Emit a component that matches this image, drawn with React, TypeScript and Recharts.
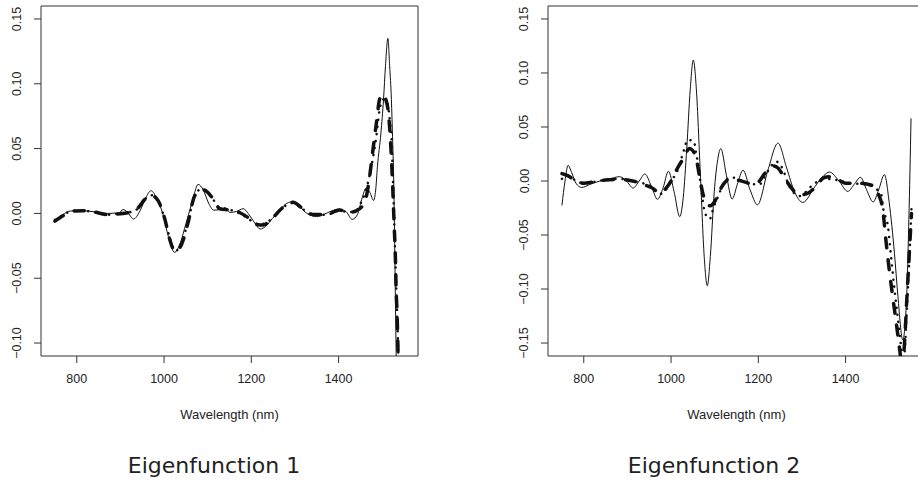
import React from "react";
import { LineChart, Line, XAxis, YAxis, ReferenceArea } from "recharts";

// ---- Eigenfunction 1 (left panel) ----
const ef1SolidNm = [750, 760, 772, 785, 810, 840, 870, 897, 906, 916, 930, 945, 958, 970, 984, 997, 1010, 1024, 1038, 1050, 1062, 1070, 1078, 1090, 1102, 1114, 1128, 1140, 1151, 1166, 1181, 1197, 1209, 1220, 1233, 1248, 1264, 1278, 1293, 1308, 1320, 1333, 1350, 1365, 1386, 1402, 1418, 1431, 1443, 1454, 1463, 1472, 1480, 1485, 1489, 1497, 1503, 1507.5, 1513, 1517, 1521, 1524, 1526.6, 1528.8, 1532, 1540];
const ef1SolidVal = [-0.0055, -0.003, 0.0, 0.0018, 0.0022, 0.0012, 0.0, 0.0005, 0.003, 0.001, -0.0043, 0.002, 0.012, 0.0175, 0.011, 0.0, -0.018, -0.030, -0.022, -0.008, 0.006, 0.016, 0.0224, 0.018, 0.008, 0.0025, 0.003, 0.004, 0.0008, 0.0015, 0.0036, -0.002, -0.008, -0.012, -0.010, -0.004, 0.002, 0.007, 0.009, 0.007, 0.002, -0.001, -0.0025, -0.001, 0.0022, 0.0033, 0.001, -0.0046, -0.001, 0.012, 0.0195, 0.016, 0.010, 0.018, 0.036, 0.062, 0.088, 0.114, 0.135, 0.114, 0.088, 0.055, 0.021, -0.03, -0.11, -0.25];

const ef1DashNm = [750, 770, 792, 815, 838, 868, 899, 922, 941, 956, 971, 987, 1002, 1013, 1026, 1040, 1055, 1070, 1086, 1101, 1113, 1128, 1151, 1174, 1193, 1212, 1227, 1246, 1269, 1296, 1315, 1341, 1372, 1402, 1421, 1440, 1455, 1463, 1471, 1478, 1486, 1494, 1501, 1508, 1514, 1519, 1522, 1525, 1527.5, 1530, 1532, 1534, 1536.5, 1545];
const ef1DashVal = [-0.006, -0.0015, 0.0018, 0.002, 0.0013, -0.0008, -0.0003, 0.001, 0.0044, 0.0108, 0.0139, 0.0095, -0.0046, -0.020, -0.0295, -0.024, -0.0072, 0.0134, 0.0185, 0.016, 0.0108, 0.0036, 0.0026, 0.0005, -0.0033, -0.0085, -0.009, -0.0046, 0.0036, 0.0087, 0.0044, -0.0008, -0.0008, 0.0026, 0.0005, 0.002, 0.006, 0.012, 0.028, 0.047, 0.068, 0.088, 0.092, 0.088, 0.078, 0.056, 0.036, 0.012, -0.01, -0.032, -0.06, -0.077, -0.11, -0.2];

const ef1DotNm = [750, 770, 790, 815, 840, 870, 900, 922, 941, 956, 971, 987, 1002, 1014, 1026, 1040, 1055, 1070, 1086, 1100, 1112, 1125, 1150, 1174, 1193, 1212, 1228, 1247, 1270, 1296, 1315, 1341, 1372, 1402, 1425, 1440, 1452, 1462, 1475, 1486, 1494, 1503, 1512, 1518, 1521, 1524, 1527, 1530, 1534, 1537, 1545];
const ef1DotVal = [-0.005, -0.001, 0.002, 0.002, 0.001, -0.001, 0.0, 0.001, 0.004, 0.011, 0.014, 0.009, -0.005, -0.020, -0.029, -0.023, -0.006, 0.013, 0.019, 0.016, 0.011, 0.005, 0.003, 0.0, -0.004, -0.008, -0.008, -0.004, 0.004, 0.008, 0.004, -0.001, -0.001, 0.002, 0.001, 0.002, 0.0087, 0.017, 0.036, 0.058, 0.080, 0.088, 0.085, 0.070, 0.060, 0.032, 0.0, -0.035, -0.075, -0.11, -0.2];

// ---- Eigenfunction 2 (right panel) ----
const ef2SolidNm = [750, 757, 764, 772, 782, 795, 815, 837, 860, 882, 898, 913, 927, 940, 955, 969, 982, 994, 1007, 1020, 1028, 1036, 1044, 1051, 1058, 1067, 1076, 1083, 1090, 1099, 1107, 1114, 1127, 1140, 1152, 1165, 1181, 1198, 1222, 1245, 1265, 1283, 1302, 1330, 1350, 1363, 1385, 1405, 1420, 1434, 1448, 1463, 1476, 1489, 1500, 1512, 1520, 1531, 1539, 1545, 1550];
const ef2SolidVal = [-0.0225, 0.0, 0.0145, 0.008, -0.002, -0.006, -0.003, 0.0, 0.002, 0.004, 0.0, -0.0065, 0.0, 0.0065, -0.005, -0.017, -0.006, 0.009, -0.010, -0.033, -0.015, 0.030, 0.085, 0.112, 0.085, 0.008, -0.070, -0.097, -0.070, -0.010, 0.020, 0.030, 0.005, -0.0167, -0.003, 0.010, -0.008, -0.022, 0.010, 0.035, 0.012, -0.010, -0.0198, -0.005, 0.005, 0.0083, 0.0, -0.0096, -0.003, 0.0034, -0.008, -0.0194, -0.008, 0.0059, -0.020, -0.067, -0.107, -0.147, -0.116, -0.036, 0.058];

const ef2DashNm = [750, 765, 782, 800, 820, 850, 880, 912, 935, 955, 975, 990, 1004, 1015, 1030, 1042, 1050, 1058, 1065, 1072, 1080, 1090, 1100, 1110, 1122, 1135, 1150, 1170, 1185, 1200, 1215, 1235, 1245, 1260, 1275, 1295, 1310, 1330, 1350, 1365, 1380, 1400, 1430, 1460, 1475, 1485, 1493, 1500, 1508, 1516, 1524, 1530, 1535, 1541, 1546, 1551];
const ef2DashVal = [0.0068, 0.0045, 0.0, -0.002, -0.001, 0.001, 0.0015, 0.0, -0.003, -0.006, -0.011, -0.006, 0.003, 0.012, 0.022, 0.030, 0.028, 0.020, 0.005, -0.010, -0.020, -0.023, -0.019, -0.010, -0.002, 0.002, 0.001, -0.001, -0.003, -0.001, 0.007, 0.014, 0.012, 0.003, -0.006, -0.013, -0.012, -0.006, 0.003, 0.004, 0.002, -0.002, -0.002, -0.004, -0.012, -0.026, -0.057, -0.082, -0.107, -0.131, -0.156, -0.175, -0.150, -0.104, -0.067, -0.030];

const ef2DotNm = [750, 765, 782, 800, 850, 880, 912, 935, 955, 975, 990, 1004, 1015, 1030, 1038, 1052, 1057, 1061, 1070, 1078, 1089, 1097, 1105, 1120, 1134, 1143, 1165, 1185, 1203, 1220, 1241, 1256, 1270, 1295, 1321, 1350, 1378, 1410, 1443, 1465, 1482, 1486, 1497, 1505, 1512, 1520, 1528, 1532, 1536, 1539, 1545, 1551];
const ef2DotVal = [0.002, 0.005, 0.0, -0.002, 0.001, 0.002, 0.0, -0.002, -0.005, -0.012, -0.007, 0.002, 0.010, 0.029, 0.038, 0.037, 0.027, 0.018, -0.010, -0.030, -0.035, -0.025, -0.017, -0.003, 0.003, 0.003, 0.0, -0.003, -0.003, 0.008, 0.018, 0.011, -0.004, -0.014, -0.005, 0.002, 0.001, -0.002, -0.003, -0.006, -0.013, -0.025, -0.042, -0.073, -0.100, -0.128, -0.156, -0.170, -0.155, -0.131, -0.082, -0.025];

const xTicks = [800, 1000, 1200, 1400];
const ef1YTicks = [-0.1, -0.05, 0, 0.05, 0.1, 0.15];
const ef2YTicks = [-0.15, -0.1, -0.05, 0, 0.05, 0.1, 0.15];

const zip = (xs: number[], ys: number[]) => xs.map((x, i) => ({ x, y: ys[i] }));

const FONT = "'Liberation Sans', Arial, Helvetica, sans-serif";
const INK = "#111";

const fmt = (v: number) => (v < 0 ? "\u2212" : "") + Math.abs(v).toFixed(2);

const YTick = (props: any) => {
  const { y, payload } = props;
  return (
    <text
      x={21.5}
      y={y}
      transform={`rotate(-90 21.5 ${y})`}
      textAnchor="middle"
      fontSize={12.5}
      fontFamily={FONT}
      fill="#222"
    >
      {fmt(payload.value)}
    </text>
  );
};

interface PanelProps {
  left: number;
  yDomain: [number, number];
  yTicks: number[];
  solid: { x: number; y: number }[];
  dash: { x: number; y: number }[];
  dot: { x: number; y: number }[];
}

function Panel({ left, yDomain, yTicks, solid, dash, dot }: PanelProps) {
  return (
    <div style={{ position: "absolute", left, top: 0 }}>
      <LineChart width={460} height={483} margin={{ top: 6, right: 42, bottom: 0, left: 0 }}>
        <XAxis
          type="number"
          dataKey="x"
          domain={[718, 1582]}
          ticks={xTicks}
          allowDataOverflow
          height={127}
          tickSize={7}
          tickMargin={11}
          axisLine={false}
          tickLine={{ stroke: "#333" }}
          tick={{ fontSize: 12.5, fill: "#222", fontFamily: FONT }}
        />
        <YAxis
          type="number"
          dataKey="y"
          domain={yDomain}
          ticks={yTicks}
          allowDataOverflow
          width={41}
          tickSize={7}
          axisLine={false}
          tickLine={{ stroke: "#333" }}
          tick={<YTick />}
        />
        <Line data={solid} dataKey="y" type="monotone" stroke={INK} strokeWidth={1} dot={false} isAnimationActive={false} />
        <Line data={dash} dataKey="y" type="monotone" stroke={INK} strokeWidth={3.5} strokeDasharray="10 12" strokeLinecap="round" dot={false} isAnimationActive={false} />
        <Line data={dot} dataKey="y" type="monotone" stroke={INK} strokeWidth={2.5} strokeDasharray="0.1 7" strokeLinecap="round" dot={false} isAnimationActive={false} />
        <ReferenceArea x1={718} x2={1582} y1={yDomain[0]} y2={yDomain[1]} fill="none" stroke="#333" strokeWidth={1} ifOverflow="visible" />
      </LineChart>
    </div>
  );
}

export default function App() {
  return (
    <div style={{ position: "fixed", left: 0, top: 0, width: 918, height: 483, overflow: "hidden", background: "#fff" }}>
      <Panel left={0} yDomain={[-0.11, 0.16]} yTicks={ef1YTicks} solid={zip(ef1SolidNm, ef1SolidVal)} dash={zip(ef1DashNm, ef1DashVal)} dot={zip(ef1DotNm, ef1DotVal)} />
      <Panel left={507} yDomain={[-0.162, 0.162]} yTicks={ef2YTicks} solid={zip(ef2SolidNm, ef2SolidVal)} dash={zip(ef2DashNm, ef2DashVal)} dot={zip(ef2DotNm, ef2DotVal)} />
      <svg width={918} height={483} style={{ position: "absolute", left: 0, top: 0, pointerEvents: "none" }}>
        <text x={229.5} y={419} textAnchor="middle" fontSize={13} fontFamily={FONT} fill="#222">Wavelength (nm)</text>
        <text x={736.5} y={419} textAnchor="middle" fontSize={13} fontFamily={FONT} fill="#222">Wavelength (nm)</text>
        <text x={214} y={473} textAnchor="middle" fontSize={22} fontFamily="'DejaVu Sans', sans-serif" fill="#222">Eigenfunction 1</text>
        <text x={714} y={473} textAnchor="middle" fontSize={22} fontFamily="'DejaVu Sans', sans-serif" fill="#222">Eigenfunction 2</text>
      </svg>
    </div>
  );
}
